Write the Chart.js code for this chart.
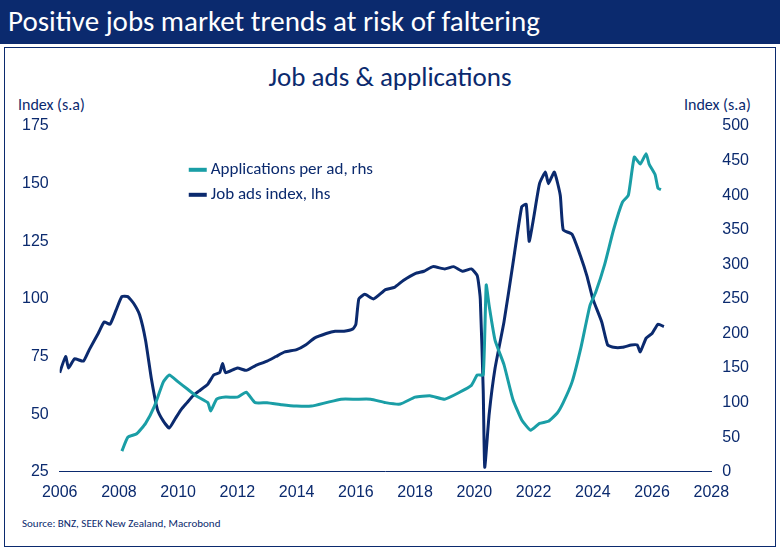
<!DOCTYPE html>
<html><head><meta charset="utf-8">
<script src="https://cdn.jsdelivr.net/npm/chart.js@4"></script>
<style>
body{margin:0;width:780px;height:551px;background:#fff;font-family:Calibri,"Liberation Sans",Arial,sans-serif;overflow:hidden}
#bar{position:absolute;left:0;top:0;width:780px;height:44px;background:#0b2a6e;color:#fff;font-size:29px;line-height:42px;padding-left:8px;box-sizing:border-box}
#box{position:absolute;left:4px;top:47px;width:772px;height:500px;border:1px solid #0b2a6e;box-sizing:border-box}
#t{position:absolute;left:0;width:780px;top:60px;text-align:center;color:#0b2a6e;font-size:27px}
#src{position:absolute;left:22px;top:517px;color:#0b2a6e;font-size:11px}
.al{position:absolute;top:95px;color:#0b2a6e;font-size:16px}
#c{position:absolute;left:10px;top:110px}
</style></head><body>
<div id="bar">Positive jobs market trends at risk of faltering</div>
<div id="box"></div>
<div id="t">Job ads &amp; applications</div>
<div class="al" style="left:18px">Index (s.a)</div>
<div class="al" style="left:684px">Index (s.a)</div>
<div id="src">Source: BNZ, SEEK New Zealand, Macrobond</div>
<div id="c"><canvas id="cv" width="760" height="395"></canvas></div>
<script>
const adsX=[2006.0,2006.2,2006.3,2006.5,2006.8,2007.0,2007.3,2007.5,2007.7,2007.9,2008.1,2008.3,2008.5,2008.7,2008.9,2009.1,2009.3,2009.5,2009.7,2009.9,2010.1,2010.3,2010.5,2010.7,2011.0,2011.2,2011.4,2011.5,2011.6,2012.0,2012.3,2012.6,2013.0,2013.3,2013.6,2014.0,2014.3,2014.6,2015.0,2015.3,2015.6,2015.9,2016.0,2016.1,2016.3,2016.6,2017.0,2017.3,2017.6,2018.0,2018.3,2018.6,2019.0,2019.3,2019.6,2019.9,2020.1,2020.2,2020.3,2020.35,2020.5,2020.7,2021.0,2021.3,2021.6,2021.75,2021.85,2022.0,2022.2,2022.4,2022.5,2022.7,2022.9,2023.0,2023.3,2023.6,2023.8,2024.0,2024.3,2024.5,2024.7,2025.0,2025.3,2025.5,2025.6,2025.8,2026.0,2026.2,2026.4];
const adsY=[68,75,70,74,73,78,85,90,89,95,101,101,98,93,82,65,52,47,44,48,52,55,58,60,63,67,68,72,68,70,69,71,73,75,77,78,80,83,85,86,86,87,89,100,102,100,104,105,108,111,112,114,113,114,112,113,110,100,60,27,50,70,90,115,140,141,125,135,150,155,150,155,145,130,128,118,110,100,90,80,79,79,80,80,77,83,85,89,88];
const appX=[2008.1,2008.3,2008.6,2008.9,2009.2,2009.5,2009.7,2010.0,2010.3,2010.6,2011.0,2011.1,2011.3,2011.6,2012.0,2012.3,2012.6,2013.0,2013.5,2014.0,2014.5,2015.0,2015.5,2016.0,2016.5,2017.0,2017.5,2018.0,2018.5,2019.0,2019.5,2019.9,2020.1,2020.3,2020.4,2020.5,2020.7,2021.0,2021.3,2021.6,2021.9,2022.2,2022.5,2022.8,2023.0,2023.3,2023.6,2023.9,2024.1,2024.4,2024.7,2025.0,2025.2,2025.4,2025.6,2025.8,2025.9,2026.1,2026.2,2026.3];
const appY=[30,50,55,70,95,130,140,130,120,110,100,88,105,108,108,115,100,100,97,95,95,100,105,105,105,100,98,108,110,105,115,125,140,140,270,240,190,155,105,75,60,70,73,85,100,130,180,240,260,300,350,390,400,455,445,460,445,430,410,408];
const navy='#0b2a6e',teal='#1a9ea6';
const pts=(x,y)=>x.map((v,i)=>({x:v,y:y[i]}));
new Chart(document.getElementById('cv'),{type:'line',data:{datasets:[
{label:'Applications per ad, rhs',data:pts(appX,appY),yAxisID:'y2',borderColor:teal,backgroundColor:teal,borderWidth:3,pointRadius:0,tension:0.15},
{label:'Job ads index, lhs',data:pts(adsX,adsY),yAxisID:'y',borderColor:navy,backgroundColor:navy,borderWidth:3,pointRadius:0,tension:0.15}]},
options:{responsive:false,animation:false,layout:{padding:{left:9,right:18,top:16}},
plugins:{legend:{display:false},tooltip:{enabled:false}},
scales:{x:{type:'linear',min:2006,max:2028,ticks:{stepSize:2,color:navy,font:{size:16},callback:v=>v},grid:{display:false},border:{color:navy}},
y:{min:25,max:175,ticks:{stepSize:25,color:navy,font:{size:16}},grid:{display:false},border:{display:false}},
y2:{position:'right',min:0,max:500,ticks:{stepSize:50,color:navy,font:{size:16}},grid:{display:false},border:{display:false}}}},
plugins:[{id:'leg',afterDraw(c){const g=c.ctx,x=c.scales.x.getPixelForValue(2011.1);const y0=c.scales.y.getPixelForValue(156);
[[teal,'Applications per ad, rhs'],[navy,'Job ads index, lhs']].forEach((d,i)=>{const y=y0+i*25;g.fillStyle=d[0];g.fillRect(x-22,y-2,18,4);g.font='17px Calibri,"Liberation Sans",Arial';g.fillStyle=navy;g.textBaseline='middle';g.fillText(d[1],x,y);});}}]});
</script></body></html>
